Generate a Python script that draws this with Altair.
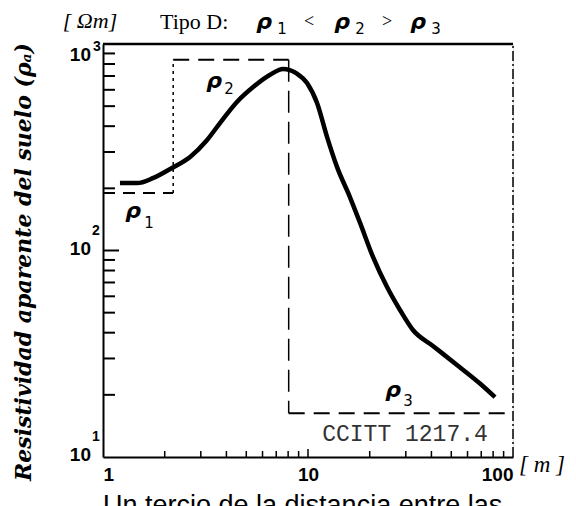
import altair as alt
import pandas as pd

# ---- data ----
curve_x = [1.21, 1.47, 1.75, 2.17, 2.66, 3.22, 3.72, 4.5, 5.4, 6.5, 7.55, 8.8, 9.89, 11.07,
           12.38, 13.85, 16.03, 17.95, 20.75, 24.3, 28.1, 32.5, 40.7, 53.3, 69.0, 81.7]
curve_y = [212, 212, 224, 251, 284, 343, 414, 524, 619, 708, 757, 720, 647, 518,
           355, 254, 181, 136, 93.1, 66.5, 51.5, 41.2, 34.5, 27.9, 22.7, 19.5]

rho1, rho2, rho3 = 190, 840, 16.3
d1, d2 = 2.2, 8.05
x_min, x_max = 1, 100
y_min, y_max = 10, 1000

x_major = [1, 10, 100]
x_minor = [2, 3, 4, 5, 6, 7, 8, 9, 20, 30, 40, 50, 60, 70, 80, 90]
y_major = [100]
y_minor = [200, 300, 400, 500, 600, 700, 800, 900, 20, 30, 40, 50, 60, 70, 80, 90]
y_label_vals = [10, 100, 1000]
y_label_sup = ["1", "2", "3"]

W, H = 410, 413

xs = alt.Scale(type="log", domain=[x_min, x_max], nice=False)
ys = alt.Scale(type="log", domain=[y_min, y_max], nice=False)

curve_df = pd.DataFrame({"x": curve_x, "y": curve_y})

curve = alt.Chart(curve_df).mark_line(color="black", strokeWidth=4.5, interpolate="monotone").encode(
    x=alt.X("x:Q", scale=xs,
            axis=alt.Axis(values=x_major, title=None, grid=False, ticks=False, domainColor="black",
                          domainWidth=2, labelFont="Liberation Sans", labelFontWeight="bold",
                          labelFontSize=19, labelColor="black", labelFlush=True, labelPadding=8,
                          format="~s")),
    y=alt.Y("y:Q", scale=ys,
            axis=alt.Axis(title=None, grid=False, ticks=False, labels=False, domainColor="black",
                          domainWidth=2)),
)

def segs(xa, xb, ya, yb, dash=None, sw=2):
    df = pd.DataFrame({"x": xa, "x2": xb, "y": ya, "y2": yb})
    kw = {"strokeDash": dash} if dash else {}
    return alt.Chart(df).mark_rule(color="black", strokeWidth=sw, **kw).encode(
        x=alt.X("x:Q", scale=xs), x2="x2:Q", y=alt.Y("y:Q", scale=ys), y2="y2:Q")

box = [
    segs([x_min], [d1], [rho1], [rho1], [12, 8]),
    segs([d1], [d1], [rho1], [rho2], [3, 4], 1.5),
    segs([d1], [d2], [rho2], [rho2], [16, 9]),
    segs([d2], [d2], [rho2], [rho3], [22, 9], 1.5),
    segs([d2], [x_max], [rho3], [rho3], [16, 9]),
    segs([x_min], [x_max], [y_max], [y_max], None, 2.5),
    segs([x_max], [x_max], [y_min], [y_max], [10, 3, 2, 3], 1.5),
]

# inward ticks, drawn as short segments from the axes (lengths given in scale units)
Y_MINOR_END, Y_MAJOR_END = 1.144, 1.197
X_MINOR_END, X_MAJOR_END = 10.69, 10.93
ticks = [
    segs([x_min] * len(y_minor), [Y_MINOR_END] * len(y_minor), y_minor, y_minor, None, 2),
    segs([x_min] * len(y_major), [Y_MAJOR_END] * len(y_major), y_major, y_major, None, 2),
    segs(x_minor, x_minor, [y_min] * len(x_minor), [X_MINOR_END] * len(x_minor), None, 1.5),
    segs([10], [10], [y_min], [X_MAJOR_END], None, 1.5),
]

# y labels 10^n
ylab_df = pd.DataFrame({"v": y_label_vals, "sup": y_label_sup, "base": ["10"] * 3})
ylab_base = alt.Chart(ylab_df).mark_text(align="right", baseline="middle", font="Liberation Sans",
                                         fontWeight="bold", fontSize=19, dy=-2).encode(
    y=alt.Y("v:Q", scale=ys), x=alt.value(-12), text="base:N").transform_filter("datum.v < 1000")
ylab_top = alt.Chart(ylab_df).mark_text(align="right", baseline="middle", font="Liberation Sans",
                                        fontWeight="bold", fontSize=19, dy=11).encode(
    y=alt.Y("v:Q", scale=ys), x=alt.value(-12), text="base:N").transform_filter("datum.v >= 1000")
ysup = alt.Chart(ylab_df).mark_text(align="left", baseline="middle", font="Liberation Sans",
                                    fontWeight="bold", fontSize=14, dy=-20).encode(
    y=alt.Y("v:Q", scale=ys), x=alt.value(-11), text="sup:N").transform_filter("datum.v < 1000")
ysup_top = alt.Chart(ylab_df).mark_text(align="left", baseline="middle", font="Liberation Sans",
                                        fontWeight="bold", fontSize=14, dy=3).encode(
    y=alt.Y("v:Q", scale=ys), x=alt.value(-10), text="sup:N").transform_filter("datum.v >= 1000")

def txt(s, x, y, size, font="Liberation Serif", style="normal", weight="normal", align="center",
        angle=0, color="black", baseline="middle"):
    return alt.Chart(pd.DataFrame({"t": [s]})).mark_text(
        font=font, fontSize=size, fontStyle=style, fontWeight=weight, align=align,
        angle=angle, color=color, baseline=baseline).encode(
        x=alt.value(x), y=alt.value(y), text="t:N")

OX, OY = 103, 44  # page position of plot origin (for annotation placement)

RHO = dict(font="DejaVu Sans", style="italic", weight="bold")
SUB = dict(font="DejaVu Sans")

labels = [
    txt("Resistividad aparente del suelo (ρₐ)", 24 - OX, 262 - OY, 22, font="DejaVu Serif",
        style="italic", weight="bold", angle=270),
    txt("[ Ωm]", 90 - OX, 21 - OY, 22, style="italic"),
    txt("Tipo D:", 160 - OX, 22 - OY, 22, align="left"),
    txt("ρ", 264 - OX, 22 - OY, 22, **RHO),
    txt("1", 282 - OX, 29 - OY, 15, **SUB),
    txt("<", 309 - OX, 22 - OY, 18),
    txt("ρ", 342 - OX, 22 - OY, 22, **RHO),
    txt("2", 360 - OX, 29 - OY, 15, **SUB),
    txt(">", 387 - OX, 22 - OY, 18),
    txt("ρ", 418 - OX, 22 - OY, 22, **RHO),
    txt("3", 436 - OX, 29 - OY, 15, **SUB),
    txt("ρ", 214 - OX, 81 - OY, 22, **RHO),
    txt("2", 229 - OX, 89 - OY, 15, **SUB),
    txt("ρ", 133 - OX, 211 - OY, 22, **RHO),
    txt("1", 149 - OX, 223 - OY, 15, **SUB),
    txt("ρ", 393 - OX, 390 - OY, 22, **RHO),
    txt("3", 408 - OX, 401 - OY, 15, **SUB),
    txt("CCITT 1217.4", 405 - OX, 434 - OY, 23, font="Liberation Mono", color="#333"),
    txt("[ m ]", 542 - OX, 465 - OY, 23, style="italic"),
    txt("Un tercio de la distancia entre las", 103 - OX, 514 - OY, 27, font="Liberation Sans",
        align="left", baseline="alphabetic"),
]

chart = alt.layer(curve, *box, ylab_base, ylab_top, ysup, ysup_top, *labels, *ticks).properties(
    width=W, height=H, autosize=alt.AutoSizeParams(type="none"),
    padding={"left": 95, "top": 36, "right": 55, "bottom": 60},
).configure_view(stroke=None).configure(background="white")

chart.save("out.html", embed_options={"renderer": "svg", "actions": False})
